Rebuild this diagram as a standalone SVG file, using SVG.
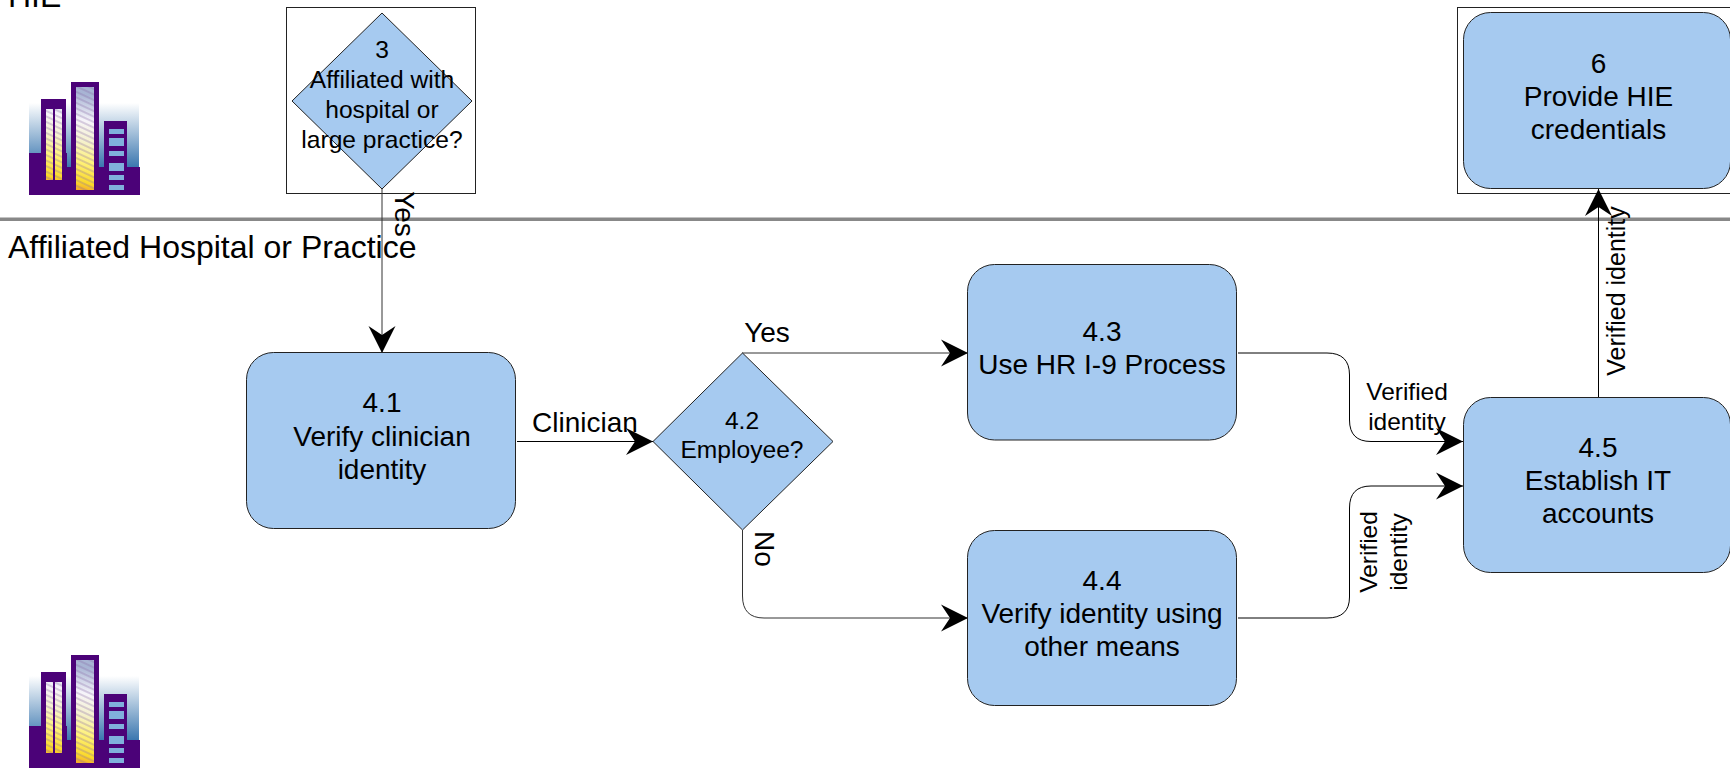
<svg xmlns="http://www.w3.org/2000/svg" width="1730" height="768" viewBox="0 0 1730 768">
<style>
text{font-family:"Liberation Sans",Arial,sans-serif;fill:#000;text-anchor:middle}
.n{font-size:28px}
.d{font-size:24.6px}
.l{font-size:24.5px}
.lane{font-size:32px;text-anchor:start}
.box{fill:#a6caf0;stroke:#222;stroke-width:1}
.frame{fill:#fff;stroke:#222;stroke-width:1}
.c{fill:none;stroke:#000;stroke-width:1;marker-end:url(#arrow)}
.p{fill:#4b0278}
.w{fill:#80b0dc}
</style>
<defs>
<marker id="arrow" markerUnits="userSpaceOnUse" markerWidth="30" markerHeight="30" refX="27" refY="14" orient="auto"><path d="M27,14 L0,0.5 L9,14 L0,27.5 Z" fill="#000"/></marker>
<linearGradient id="sky" x1="0" y1="0" x2="0" y2="1"><stop offset="0" stop-color="#fff"/><stop offset="1" stop-color="#3573ad"/></linearGradient>
<linearGradient id="glass" x1="0.1" y1="0" x2="0" y2="1"><stop offset="0" stop-color="#a8b4d4"/><stop offset=".25" stop-color="#f6f4fa"/><stop offset=".45" stop-color="#f5f1cf"/><stop offset=".65" stop-color="#fff27a"/><stop offset=".85" stop-color="#fbd92a"/><stop offset="1" stop-color="#ee7f2a"/></linearGradient>
<pattern id="hatch" width="5" height="5" patternUnits="userSpaceOnUse" patternTransform="rotate(25)"><rect width="5" height="2" fill="#8a6aa8" opacity=".3"/></pattern>
<g id="bldg">
<rect x="29" y="103" width="110" height="66" fill="url(#sky)"/>
<path class="p" d="M29,153H41V99H66V153H67V167H71V82H99V167H104V121H127V167H140V195H29Z"/>
<path fill="url(#glass)" d="M46,109h7v71h-7zM55,109h7v71h-7zM76,87h18v103h-18z"/>
<path fill="url(#hatch)" d="M46,109h7v71h-7zM55,109h7v71h-7zM76,87h18v103h-18z"/>
<path class="w" d="M109,129h15v5h-15zM109,138h15v8h-15zM109,151h15v5h-15zM109,163h15v8h-15zM109,175h15v5h-15zM109,185h15v5h-15z"/>
</g>
</defs>
<rect width="1730" height="768" fill="#fff"/>
<g id="lane-hie">
<text class="lane" x="8" y="7">HIE</text>
<use href="#bldg"/>
</g>
<g id="lane-divider"><rect x="0" y="217.5" width="1730" height="3.5" fill="#888"/></g>
<g id="lane-hospital">
<text class="lane" x="8" y="258">Affiliated Hospital or Practice</text>
<use href="#bldg" y="573"/>
</g>
<g id="node-3">
<rect class="frame" x="286.5" y="7.5" width="189" height="186"/>
<path class="box" d="M382,13 L472,101 L382,189 L292,101 Z"/>
<text class="d" x="382" y="58">3</text>
<text class="d" x="382" y="88">Affiliated with</text>
<text class="d" x="382" y="118">hospital or</text>
<text class="d" x="382" y="148">large practice?</text>
</g>
<g id="node-6">
<rect class="frame" x="1457.5" y="7.5" width="290" height="186"/>
<rect class="box" x="1463.5" y="12.5" width="267" height="176" rx="27"/>
<text class="n" x="1598.5" y="73">6</text>
<text class="n" x="1598.5" y="106">Provide HIE</text>
<text class="n" x="1598.5" y="139">credentials</text>
</g>
<g id="node-4-1">
<rect class="box" x="246.5" y="352.5" width="269" height="176" rx="27"/>
<text class="n" x="382" y="412">4.1</text>
<text class="n" x="382" y="446">Verify clinician</text>
<text class="n" x="382" y="479">identity</text>
</g>
<g id="node-4-2">
<path class="box" d="M742.5,353 L833,441.5 L742.5,530 L653,441.5 Z"/>
<text class="d" x="742" y="429">4.2</text>
<text class="d" x="742" y="458">Employee?</text>
</g>
<g id="node-4-3">
<rect class="box" x="967.5" y="264.5" width="269" height="175.5" rx="27"/>
<text class="n" x="1102" y="341">4.3</text>
<text class="n" x="1102" y="374">Use HR I-9 Process</text>
</g>
<g id="node-4-4">
<rect class="box" x="967.5" y="530.5" width="269" height="175" rx="27"/>
<text class="n" x="1102" y="590">4.4</text>
<text class="n" x="1102" y="623">Verify identity using</text>
<text class="n" x="1102" y="656">other means</text>
</g>
<g id="node-4-5">
<rect class="box" x="1463.5" y="397.5" width="267" height="175" rx="27"/>
<text class="n" x="1598" y="457">4.5</text>
<text class="n" x="1598" y="490">Establish IT</text>
<text class="n" x="1598" y="523">accounts</text>
</g>
<g id="connectors">
<path class="c" d="M382,189 V353" style="stroke:#333"/>
<path class="c" d="M517,441.5 H653"/>
<path class="c" d="M742,353 H968" style="stroke:#333"/>
<path class="c" d="M742.5,530 V596 Q742.5,618 764,618 H968" style="stroke:#333"/>
<path class="c" d="M1238,353 H1327 Q1349.5,353 1349.5,375 V420 Q1349.5,441.5 1371,441.5 H1463"/>
<path class="c" d="M1238,618 H1327 Q1349.5,618 1349.5,597 V508 Q1349.5,486 1371,486 H1463"/>
<path class="c" d="M1598.5,397 V189"/>
</g>
<g id="labels">
<text class="n" transform="translate(395,214) rotate(90)">Yes</text>
<text class="n" x="585" y="432">Clinician</text>
<text class="n" x="767" y="342">Yes</text>
<text class="n" transform="translate(755,549) rotate(90)">No</text>
<text class="l" x="1407" y="400">Verified</text>
<text class="l" x="1407" y="430">identity</text>
<text class="l" transform="translate(1377,552) rotate(-90)">Verified</text>
<text class="l" transform="translate(1407,552) rotate(-90)">identity</text>
<text class="l" style="font-size:25px" transform="translate(1625,291) rotate(-90)">Verified identity</text>
</g>
</svg>
